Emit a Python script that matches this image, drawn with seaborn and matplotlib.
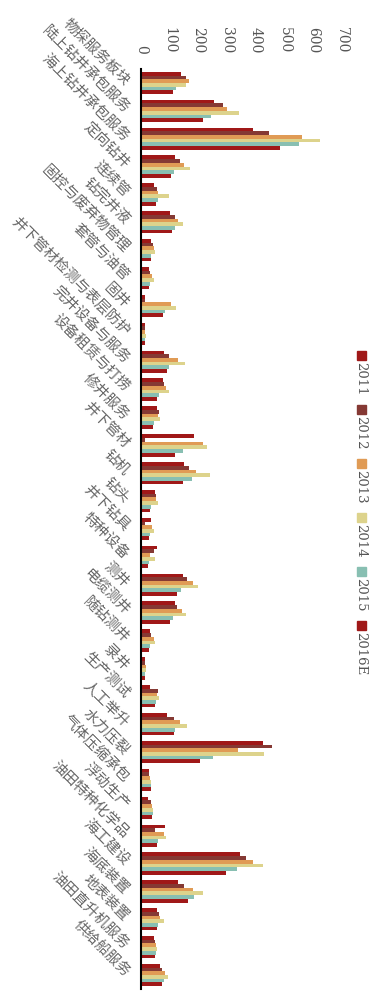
import numpy as np
import pandas as pd
import seaborn as sns
import matplotlib.pyplot as plt
from matplotlib.patches import Rectangle
from matplotlib.ticker import FixedLocator

# données
categories = ["物探服务板块", "陆上钻井承包服务", "海上钻井承包服务", "定向钻井", "连续管",
              "钻完井液", "固控与废弃物管理", "套管与油管", "固井", "井下管材检测与表层防护",
              "完井设备与服务", "设备租赁与打捞", "修井服务", "井下管材", "钻机", "钻头",
              "井下钻具", "特种设备", "测井", "电缆测井", "随钻测井", "录井", "生产测试",
              "人工举升", "水力压裂", "气体压缩承包", "浮动生产", "油田特种化学品", "海工建设",
              "海底装置", "地表装置", "油田直升机服务", "供给船服务"]
years = ["2011", "2012", "2013", "2014", "2015", "2016E"]
v2011 = [140, 255, 391, 119, 46, 102, 36, 29, 15, 15, 81, 78, 57, 185, 150, 50, 36, 57, 147, 119, 32, 15, 32, 91, 425, 29, 25, 85, 345, 130, 57, 46, 67]
v2012 = [157, 286, 446, 137, 57, 119, 43, 32, 15, 15, 98, 81, 64, 15, 168, 53, 15, 46, 161, 126, 36, 15, 60, 116, 457, 29, 36, 50, 366, 150, 64, 50, 74]
v2013 = [168, 300, 560, 150, 60, 130, 46, 39, 105, 15, 130, 88, 60, 216, 192, 53, 39, 32, 182, 143, 46, 19, 57, 137, 338, 32, 39, 81, 390, 182, 67, 53, 85]
v2014 = [157, 341, 623, 171, 98, 147, 50, 46, 123, 19, 154, 98, 67, 230, 241, 60, 46, 50, 199, 157, 50, 19, 64, 161, 428, 36, 43, 88, 425, 216, 81, 57, 95]
v2015 = [123, 244, 550, 116, 60, 119, 36, 32, 85, 15, 98, 64, 46, 147, 178, 36, 32, 29, 140, 112, 32, 15, 53, 119, 251, 36, 43, 60, 334, 185, 60, 53, 81]
v2016 = [112, 216, 484, 105, 53, 109, 36, 29, 78, 15, 91, 57, 43, 119, 147, 32, 29, 25, 126, 102, 29, 15, 50, 116, 206, 36, 39, 57, 296, 164, 57, 50, 74]
xticks = [0, 100, 200, 300, 400, 500, 600, 700]

couleurs = ["#a01818", "#853934", "#e09b55", "#ddd38c", "#88bfb2", "#a01818"]

# tableau long pour seaborn
df = pd.DataFrame({"categorie": categories, "2011": v2011, "2012": v2012, "2013": v2013,
                   "2014": v2014, "2015": v2015, "2016E": v2016})
df = df.melt(id_vars="categorie", var_name="annee", value_name="valeur")

sns.set_style("white")
plt.rcParams['font.family'] = ['Noto Sans CJK SC', 'DejaVu Sans']

fig = plt.figure(figsize=(3.86, 9.98), dpi=100)
ax = fig.add_axes([140.7 / 386, 1 - 989 / 998, 201.6 / 386, 920 / 998])

sns.barplot(data=df, x="valeur", y="categorie", hue="annee", hue_order=years,
            palette=couleurs, orient="h", width=0.8, saturation=1, legend=False,
            linewidth=0, ax=ax)

ax.set_xlim(0, 700)
ax.set_ylim(len(categories) - 0.5, -0.5)
ax.set_xlabel("")
ax.set_ylabel("")

# axe des valeurs en haut, texte tourné
ax.xaxis.tick_top()
ax.set_xticks(xticks)
ax.set_xticklabels([str(t) for t in xticks], rotation=-90, fontsize=10,
                   color="#555555", family="DejaVu Serif")
ax.tick_params(axis="x", length=0, pad=11)

# catégories tournées à -45°
ax.set_yticks(range(len(categories)))
ax.set_yticklabels(categories, rotation=-45, ha="right", va="center",
                   rotation_mode="anchor", fontsize=10.5, color="#666666")
ax.tick_params(axis="y", which="major", length=0, pad=10)
ax.yaxis.set_minor_locator(FixedLocator(np.arange(-0.5, len(categories), 1)))
ax.tick_params(axis="y", which="minor", direction="in", length=5, width=1.5, color="black")

for s in ["top", "right", "bottom"]:
    ax.spines[s].set_visible(False)
ax.spines["left"].set_color("black")
ax.spines["left"].set_linewidth(1.5)

# légende verticale (carré au-dessus, texte tourné)
for i, (an, c) in enumerate(zip(years, couleurs)):
    y0 = 350.7 + i * 54.1
    fig.add_artist(Rectangle((356.5 / 386, 1 - (y0 + 9) / 998), 9 / 386, 9 / 998,
                             transform=fig.transFigure, color=c))
    fig.text(361 / 386, 1 - (y0 + 11) / 998, an, rotation=-90, ha="center", va="top",
             fontsize=9.5, color="#555555", family="DejaVu Serif")

plt.savefig("out.png", dpi=100)
